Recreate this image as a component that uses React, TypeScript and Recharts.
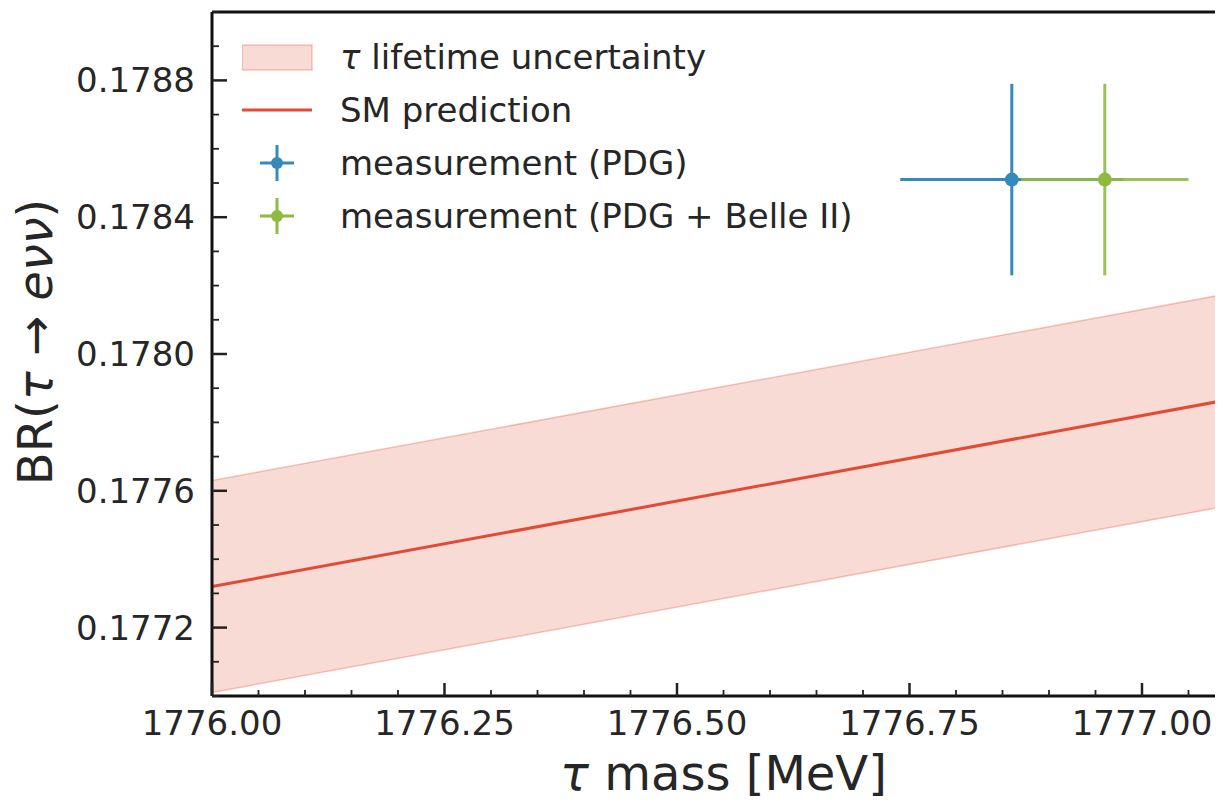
import React from 'react';
import { ComposedChart, Area, Line, Scatter, ErrorBar, XAxis, YAxis, Legend } from 'recharts';

// SM prediction and the tau-lifetime band, read at the two ends of the x range
const masses = [1776.0, 1777.1];
const smBR = [0.17732, 0.17787];
const bandLow = [0.17701, 0.17756];
const bandHigh = [0.17763, 0.17818];

// measurements
const measNames = ['measurement (PDG)', 'measurement (PDG + Belle II)'];
const measMass = [1776.86, 1776.96];
const measMassErr = [0.12, 0.09];
const measBR = [0.17851, 0.17851];
const measBRErr = [0.00028, 0.00028];

const xTicks = [
  1776.0, 1776.05, 1776.1, 1776.15, 1776.2, 1776.25, 1776.3, 1776.35, 1776.4, 1776.45, 1776.5,
  1776.55, 1776.6, 1776.65, 1776.7, 1776.75, 1776.8, 1776.85, 1776.9, 1776.95, 1777.0, 1777.05, 1777.1,
];
const xMajor = [1776.0, 1776.25, 1776.5, 1776.75, 1777.0];
const yTicks = [
  0.177, 0.1771, 0.1772, 0.1773, 0.1774, 0.1775, 0.1776, 0.1777, 0.1778, 0.1779, 0.178,
  0.1781, 0.1782, 0.1783, 0.1784, 0.1785, 0.1786, 0.1787, 0.1788, 0.1789, 0.179,
];
const yMajor = [0.1772, 0.1776, 0.178, 0.1784, 0.1788];

const RED = '#E24A33';
const BLUE = '#348ABD';
const GREEN = '#8EBA42';
const INK = '#262626';
const FONT = '"DejaVu Sans", sans-serif';

const smData = masses.map((m, i) => ({ mass: m, sm: smBR[i], band: [bandLow[i], bandHigh[i]] }));
const pdgData = [{ mass: measMass[0], br: measBR[0], xErr: measMassErr[0], yErr: measBRErr[0] }];
const belleData = [{ mass: measMass[1], br: measBR[1], xErr: measMassErr[1], yErr: measBRErr[1] }];

const XTick = ({ x, y, payload, side }: any) => {
  const v = payload.value;
  const major = xMajor.includes(v);
  const len = major ? 13 : 6;
  const dir = side === 'top' ? 1 : -1;
  return (
    <g>
      <line x1={x} x2={x} y1={y} y2={y + dir * len} stroke="#222" strokeWidth={major ? 2.5 : 1.8} />
      {major && side !== 'top' && (
        <text x={x} y={y + 39} textAnchor="middle" fontSize={34} fill={INK} fontFamily={FONT}>
          {v.toFixed(2)}
        </text>
      )}
    </g>
  );
};

const YTick = ({ x, y, payload, side }: any) => {
  const v = payload.value;
  const major = yMajor.includes(v);
  const len = major ? 15 : 7;
  const dir = side === 'right' ? -1 : 1;
  return (
    <g>
      <line x1={x} x2={x + dir * len} y1={y} y2={y} stroke="#222" strokeWidth={major ? 2.5 : 1.8} />
      {major && side !== 'right' && (
        <text x={x - 17} y={y + 12} textAnchor="end" fontSize={34} fill={INK} fontFamily={FONT}>
          {v.toFixed(4)}
        </text>
      )}
    </g>
  );
};

const XTitle = ({ viewBox }: any) => (
  <text x={viewBox.x + viewBox.width / 2} y={viewBox.y + 94} textAnchor="middle" fontSize={48} fill={INK} fontFamily={FONT}>
    <tspan fontStyle="italic">τ</tspan> mass [MeV]
  </text>
);

const YTitle = () => (
  <text x={0} y={0} transform="translate(44 334) rotate(-90)" textAnchor="middle" fontSize={48} fill={INK} fontFamily={FONT}>
    BR(<tspan fontStyle="italic">τ</tspan> → <tspan fontStyle="italic">eνν</tspan>)
  </text>
);

const legendItems = [
  { label: 'lifetime uncertainty', kind: 'band', color: RED },
  { label: 'SM prediction', kind: 'line', color: RED },
  { label: measNames[0], kind: 'err', color: BLUE },
  { label: measNames[1], kind: 'err', color: GREEN },
];

const LegendBox = () => (
  <svg width={660} height={215} style={{ display: 'block' }}>
    {legendItems.map((it, i) => {
      const cy = 26 + i * 53;
      return (
        <g key={it.label}>
          {it.kind === 'band' && (
            <rect x={0} y={cy - 12} width={70} height={25} fill={it.color} fillOpacity={0.2} stroke={it.color} strokeOpacity={0.3} strokeWidth={1.5} />
          )}
          {it.kind === 'line' && <line x1={0} x2={70} y1={cy} y2={cy} stroke={it.color} strokeWidth={3} />}
          {it.kind === 'err' && (
            <g stroke={it.color} strokeWidth={3}>
              <line x1={18} x2={52} y1={cy} y2={cy} />
              <line x1={35} x2={35} y1={cy - 18} y2={cy + 18} />
              <circle cx={35} cy={cy} r={6} fill={it.color} stroke="none" />
            </g>
          )}
          <text x={98} y={cy + 12} fontSize={34} fill={INK} fontFamily={FONT}>
            {it.kind === 'band' ? <><tspan fontStyle="italic">τ</tspan> {it.label}</> : it.label}
          </text>
        </g>
      );
    })}
  </svg>
);

const Dot = (color: string) => (p: any) => <circle cx={p.cx} cy={p.cy} r={7} fill={color} />;

export default function App() {
  return (
    <div style={{ width: 1215, height: 794, overflow: 'hidden', background: '#fff' }}>
      <ComposedChart width={1240} height={794} data={smData} margin={{ top: 3, right: 12, bottom: 0, left: 0 }}>
        <XAxis
          dataKey="mass"
          type="number"
          domain={[1776.0, 1777.1]}
          ticks={xTicks}
          interval={0}
          allowDataOverflow
          height={106}
          tickSize={0}
          tickMargin={0}
          tickLine={false}
          axisLine={{ stroke: '#111', strokeWidth: 3 }}
          tick={(p: any) => <XTick {...p} side="bottom" />}
          label={<XTitle />}
        />
        <XAxis
          xAxisId="top"
          orientation="top"
          type="number"
          domain={[1776.0, 1777.1]}
          ticks={xTicks}
          interval={0}
          allowDataOverflow
          height={1}
          tickSize={0}
          tickMargin={0}
          tickLine={false}
          axisLine={{ stroke: '#111', strokeWidth: 3 }}
          tick={(p: any) => <XTick {...p} side="top" />}
        />
        <YAxis
          type="number"
          domain={[0.177, 0.179]}
          ticks={yTicks}
          interval={0}
          allowDataOverflow
          width={204}
          tickSize={0}
          tickMargin={0}
          tickLine={false}
          axisLine={{ stroke: '#111', strokeWidth: 3 }}
          tick={(p: any) => <YTick {...p} side="left" />}
          label={<YTitle />}
        />
        <YAxis
          yAxisId="right"
          orientation="right"
          type="number"
          domain={[0.177, 0.179]}
          ticks={yTicks}
          interval={0}
          allowDataOverflow
          width={1}
          tickSize={0}
          tickMargin={0}
          tickLine={false}
          axisLine={{ stroke: '#111', strokeWidth: 3 }}
          tick={(p: any) => <YTick {...p} side="right" />}
        />
        <Area
          dataKey="band"
          type="linear"
          fill={RED}
          fillOpacity={0.2}
          stroke={RED}
          strokeOpacity={0.3}
          strokeWidth={1.5}
          isAnimationActive={false}
        />
        <Line dataKey="sm" type="linear" stroke={RED} strokeWidth={3} dot={false} isAnimationActive={false} />
        <Scatter data={pdgData} dataKey="br" fill={BLUE} shape={Dot(BLUE)} isAnimationActive={false}>
          <ErrorBar dataKey="yErr" direction="y" width={0} stroke={BLUE} strokeWidth={3} />
          <ErrorBar dataKey="xErr" direction="x" width={0} stroke={BLUE} strokeWidth={3} />
        </Scatter>
        <Scatter data={belleData} dataKey="br" fill={GREEN} shape={Dot(GREEN)} isAnimationActive={false}>
          <ErrorBar dataKey="yErr" direction="y" width={0} stroke={GREEN} strokeWidth={3} strokeOpacity={0.9} />
          <ErrorBar dataKey="xErr" direction="x" width={0} stroke={GREEN} strokeWidth={3} strokeOpacity={0.9} />
        </Scatter>
        <Legend
          layout="vertical"
          align="center"
          verticalAlign="middle"
          content={<LegendBox />}
          wrapperStyle={{ top: 23, left: 234, width: 660, height: 215 }}
        />
      </ComposedChart>
    </div>
  );
}
